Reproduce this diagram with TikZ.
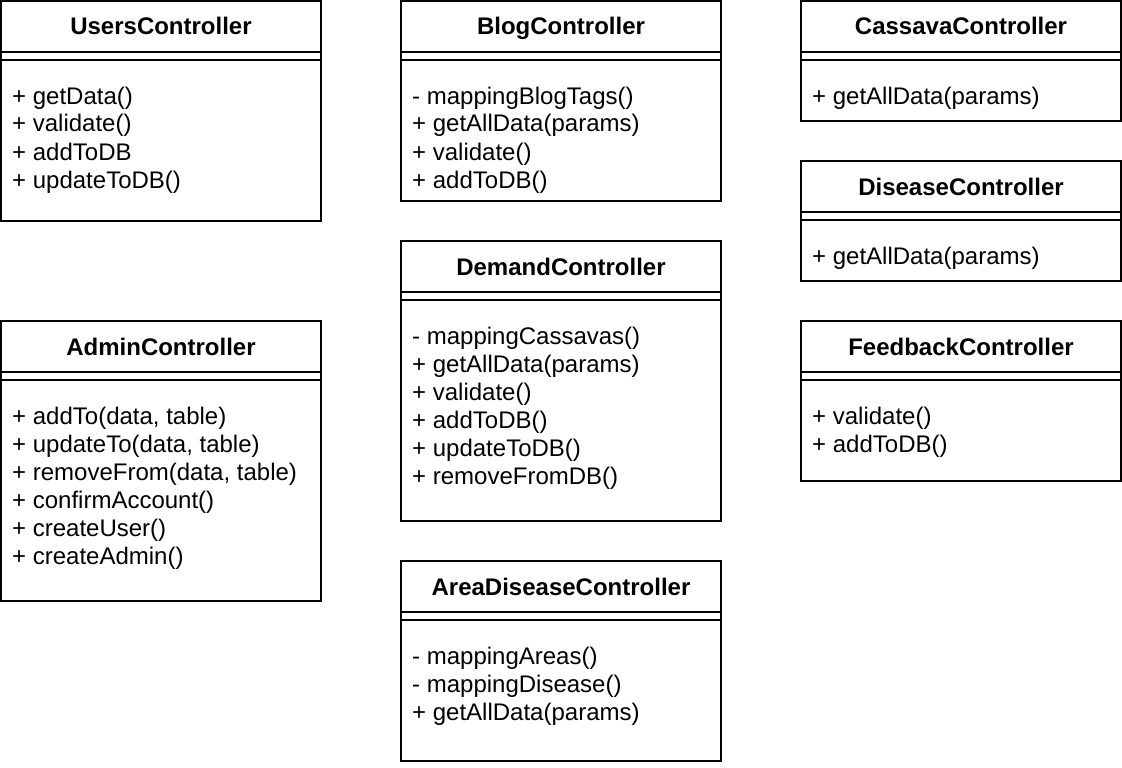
\documentclass[tikz,border=0pt]{standalone}
\usepackage{fontspec}
\setmainfont{Liberation Sans}
\tikzset{
  classbox/.style={draw=black, line width=2pt, fill=white, rectangle, inner sep=0pt, minimum width=320pt},
  sepline/.style={draw=black, line width=2pt},
  titletext/.style={font=\fontsize{24}{28}\selectfont\bfseries, inner sep=0pt, anchor=base},
  methtext/.style={font=\fontsize{24}{28}\selectfont, inner sep=0pt, anchor=base west}
}
\newcommand\umlclass[6]{%
  \node[classbox, minimum height=#4pt] (#1) at (#2+160, #3+#4/2) {};
  \draw[sepline] ([yshift=-52pt]#1.north west) -- ([yshift=-52pt]#1.north east);
  \draw[sepline] ([yshift=-60pt]#1.north west) -- ([yshift=-60pt]#1.north east);
  \node[titletext] (#1-title) at ([yshift=-35pt]#1.north) {#5};
  \node[methtext] (#1-ops) at ([xshift=12pt,yshift=-104pt]#1.north west) {\parbox[t]{300pt}{\raggedright #6}};
}
\begin{document}
\begin{tikzpicture}[x=1pt, y=-1pt]
\useasboundingbox (0,0) rectangle (1122,768);
\fill[white] (0,0) rectangle (1122,768);
\umlclass{users}{1}{1}{220}{UsersController}{+ getData()\\+ validate()\\+ addToDB\\+ updateToDB()}
\umlclass{blog}{401}{1}{200}{BlogController}{- mappingBlogTags()\\+ getAllData(params)\\+ validate()\\+ addToDB()}
\umlclass{cassava}{801}{1}{120}{CassavaController}{+ getAllData(params)}
\umlclass{disease}{801}{161}{120}{DiseaseController}{+ getAllData(params)}
\umlclass{demand}{401}{241}{280}{DemandController}{- mappingCassavas()\\+ getAllData(params)\\+ validate()\\+ addToDB()\\+ updateToDB()\\+ removeFromDB()}
\umlclass{admin}{1}{321}{280}{AdminController}{+ addTo(data, table)\\+ updateTo(data, table)\\+ removeFrom(data, table)\\+ confirmAccount()\\+ createUser()\\+ createAdmin()}
\umlclass{feedback}{801}{321}{160}{FeedbackController}{+ validate()\\+ addToDB()}
\umlclass{areadisease}{401}{561}{200}{AreaDiseaseController}{- mappingAreas()\\- mappingDisease()\\+ getAllData(params)}
\end{tikzpicture}
\end{document}
